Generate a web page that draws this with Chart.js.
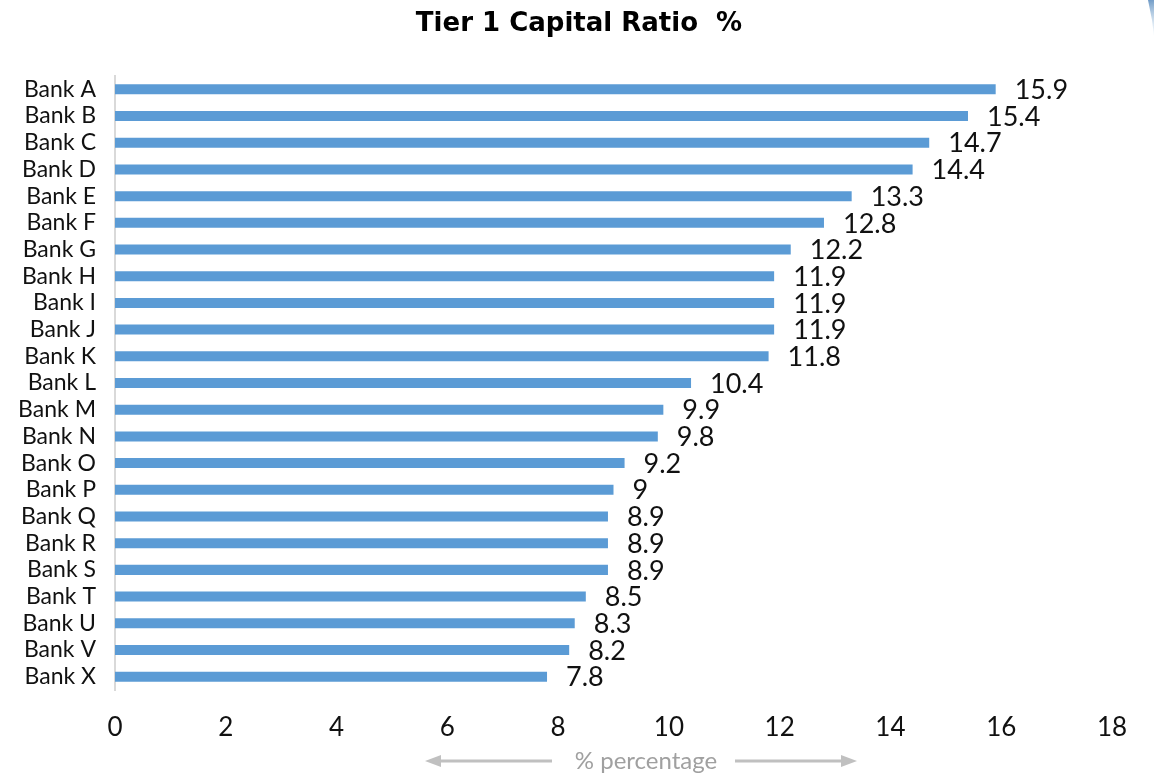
<!DOCTYPE html>
<html>
<head>
<meta charset="utf-8">
<script src="https://cdn.jsdelivr.net/npm/chart.js@4.4.1/dist/chart.umd.min.js"></script>
<style>
  html, body { margin: 0; padding: 0; background: #ffffff; }
  #wrap { width: 1154px; height: 774px; position: relative; }
</style>
</head>
<body>
<div id="wrap"><canvas id="c" width="1154" height="774"></canvas></div>
<script>
const banks = ["Bank A","Bank B","Bank C","Bank D","Bank E","Bank F","Bank G","Bank H","Bank I","Bank J","Bank K","Bank L","Bank M","Bank N","Bank O","Bank P","Bank Q","Bank R","Bank S","Bank T","Bank U","Bank V","Bank X"];
const tier1Ratio = [15.9,15.4,14.7,14.4,13.3,12.8,12.2,11.9,11.9,11.9,11.8,10.4,9.9,9.8,9.2,9,8.9,8.9,8.9,8.5,8.3,8.2,7.8];
const xTicks = [0,2,4,6,8,10,12,14,16,18];
const chartTitle = "Tier 1 Capital Ratio  %";
const axisTitle = "% percentage";

const FONT = "Lato, 'DejaVu Sans', sans-serif";

const valueLabels = {
  id: 'valueLabels',
  afterDatasetsDraw(chart) {
    const ctx = chart.ctx;
    const meta = chart.getDatasetMeta(0);
    ctx.save();
    ctx.font = "27px " + FONT;
    ctx.fillStyle = "#111111";
    ctx.textAlign = "left";
    ctx.textBaseline = "middle";
    meta.data.forEach((bar, i) => {
      ctx.fillText(String(chart.data.datasets[0].data[i]), bar.x + 19, bar.y + 1);
    });
    ctx.restore();
  }
};

const decor = {
  id: 'decor',
  afterDraw(chart) {
    const ctx = chart.ctx;
    ctx.save();
    // chart title, centred on the full canvas
    ctx.font = "bold 26px 'DejaVu Sans', sans-serif";
    ctx.fillStyle = "#000000";
    ctx.textAlign = "center";
    ctx.textBaseline = "middle";
    ctx.fillText(chartTitle, 579, 24);
    // x-axis title with arrows
    const cy = 761;
    ctx.font = "24px " + FONT;
    ctx.fillStyle = "#a0a0a0";
    ctx.fillText(axisTitle, 646, cy);
    ctx.strokeStyle = "#c0c0c0";
    ctx.fillStyle = "#c0c0c0";
    ctx.lineWidth = 3;
    ctx.beginPath();
    ctx.moveTo(436, cy); ctx.lineTo(552, cy);
    ctx.moveTo(735, cy); ctx.lineTo(846, cy);
    ctx.stroke();
    ctx.beginPath();
    ctx.moveTo(425, cy); ctx.lineTo(441, cy - 6); ctx.lineTo(441, cy + 6); ctx.closePath();
    ctx.moveTo(857, cy); ctx.lineTo(841, cy - 6); ctx.lineTo(841, cy + 6); ctx.closePath();
    ctx.fill();
    // decorative streak top-right
    const g = ctx.createLinearGradient(1146, 0, 1154, 34);
    g.addColorStop(0, "rgba(91,140,190,0.9)");
    g.addColorStop(1, "rgba(190,215,235,0.2)");
    ctx.fillStyle = g;
    ctx.beginPath();
    ctx.moveTo(1148, 0); ctx.lineTo(1154, 0); ctx.lineTo(1154, 36); ctx.lineTo(1152, 20); ctx.closePath();
    ctx.fill();
    ctx.restore();
  }
};

new Chart(document.getElementById('c'), {
  type: 'bar',
  data: {
    labels: banks,
    datasets: [{
      data: tier1Ratio,
      backgroundColor: "#5b9bd5",
      borderWidth: 0,
      barPercentage: 0.75,
      categoryPercentage: 0.5
    }]
  },
  options: {
    indexAxis: 'y',
    responsive: false,
    animation: false,
    layout: { padding: { left: 0, right: 42, top: 76, bottom: 0 } },
    plugins: {
      legend: { display: false },
      tooltip: { enabled: false },
      title: { display: false }
    },
    scales: {
      x: {
        type: 'linear',
        min: 0,
        max: 18,
        afterBuildTicks(scale) { scale.ticks = xTicks.map(v => ({ value: v })); },
        afterFit(scale) { scale.height = 84; },
        grid: { display: false, drawTicks: false },
        border: { display: false },
        ticks: {
          color: "#111111",
          font: { family: FONT, size: 26 },
          padding: 22,
          maxRotation: 0
        }
      },
      y: {
        afterFit(scale) { scale.width = 115; },
        grid: { display: false, drawTicks: false },
        border: { display: true, color: "#d9d9d9", width: 2 },
        ticks: {
          color: "#111111",
          font: { family: FONT, size: 23 },
          padding: 19,
          autoSkip: false
        }
      }
    }
  },
  plugins: [valueLabels, decor]
});
</script>
</body>
</html>
